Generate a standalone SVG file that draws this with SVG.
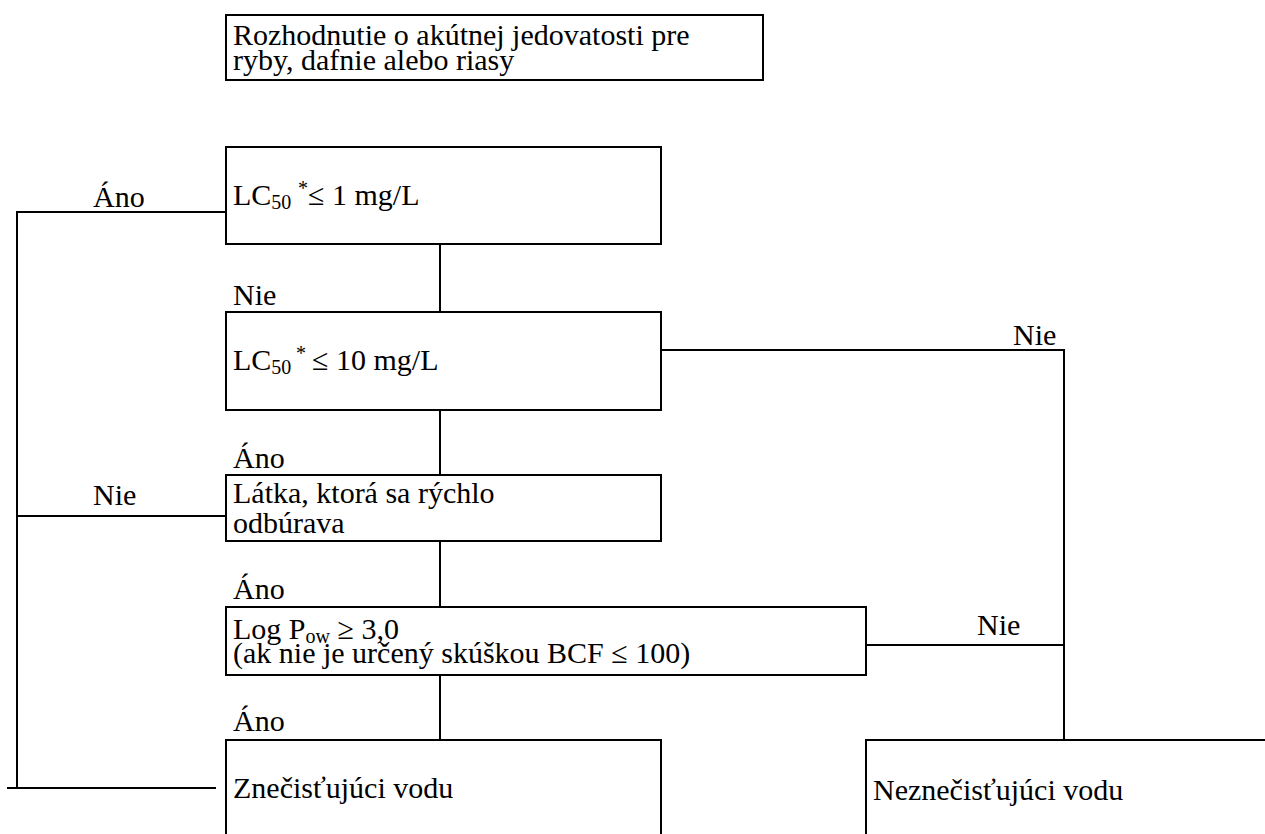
<svg xmlns="http://www.w3.org/2000/svg" width="1265" height="834" viewBox="0 0 1265 834">
<style>
.b{fill:none;stroke:#000;stroke-width:2}
.c{fill:none;stroke:#000;stroke-width:2}
text{font-family:"Liberation Serif","Times New Roman",serif;font-size:30px;fill:#000}
.s{font-size:20px}
</style>
<rect width="1265" height="834" fill="#fff"/>
<g id="connectors">
<polyline class="c" points="226,212 17,212 17,788"/>
<line class="c" x1="7" y1="788" x2="216" y2="788"/>
<line class="c" x1="440" y1="244" x2="440" y2="312"/>
<polyline class="c" points="661,350 1064,350 1064,740"/>
<line class="c" x1="440" y1="410" x2="440" y2="474"/>
<line class="c" x1="17" y1="516" x2="226" y2="516"/>
<line class="c" x1="440" y1="541" x2="440" y2="606"/>
<line class="c" x1="866" y1="645" x2="1064" y2="645"/>
<line class="c" x1="440" y1="675" x2="440" y2="739"/>
<text x="93" y="207">Áno</text>
<text x="233" y="305">Nie</text>
<text x="1013" y="345">Nie</text>
<text x="233" y="468">Áno</text>
<text x="93" y="505">Nie</text>
<text x="233" y="599">Áno</text>
<text x="977" y="635">Nie</text>
<text x="233" y="731">Áno</text>
</g>
<g id="n-start">
<rect class="b" x="226" y="15" width="537" height="65"/>
<text x="233" y="45">Rozhodnutie o akútnej jedovatosti pre</text>
<text x="233" y="70">ryby, dafnie alebo riasy</text>
</g>
<g id="n-lc1">
<rect class="b" x="226" y="147" width="435" height="97"/>
<text x="233" y="205">LC<tspan class="s" dy="4">50</tspan><tspan class="s" x="298" dy="-14">*</tspan><tspan x="308" dy="10">≤ 1 mg/L</tspan></text>
</g>
<g id="n-lc10">
<rect class="b" x="226" y="312" width="435" height="98"/>
<text x="233" y="370">LC<tspan class="s" dy="4">50</tspan><tspan class="s" x="296" dy="-14">*</tspan><tspan x="312" dy="10">≤ 10 mg/L</tspan></text>
</g>
<g id="n-degrad">
<rect class="b" x="226" y="475" width="435" height="66"/>
<text x="233" y="503">Látka, ktorá sa rýchlo</text>
<text x="233" y="533">odbúrava</text>
</g>
<g id="n-logpow">
<rect class="b" x="226" y="607" width="640" height="68"/>
<text x="233" y="639">Log P<tspan class="s" dy="4">ow</tspan><tspan dy="-4"> ≥ 3,0</tspan></text>
<text x="233" y="663">(ak nie je určený skúškou BCF ≤ 100)</text>
</g>
<g id="n-poll">
<path class="b" d="M226,834 V740 H661 V834"/>
<text x="233" y="798">Znečisťujúci vodu</text>
</g>
<g id="n-nonpoll">
<path class="b" d="M866,834 V740 H1265"/>
<text x="873" y="800">Neznečisťujúci vodu</text>
</g>
</svg>
